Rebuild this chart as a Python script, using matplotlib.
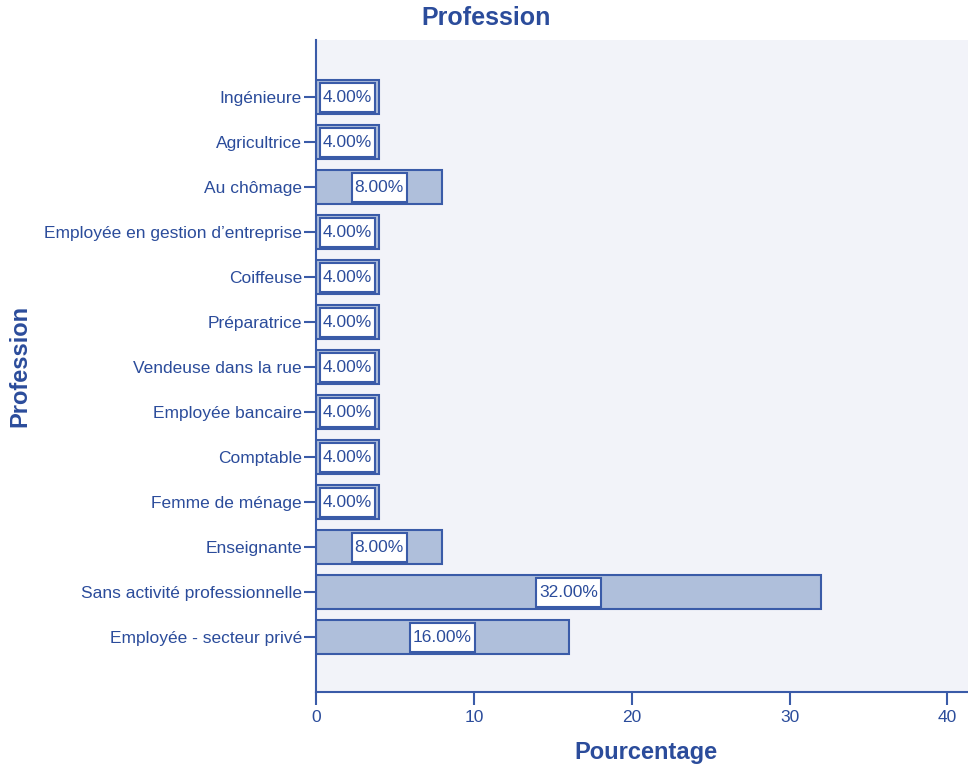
import matplotlib.pyplot as plt
from matplotlib.patches import Rectangle

# Data
professions = [
    "Ingénieure",
    "Agricultrice",
    "Au chômage",
    "Employée en gestion d\u2019entreprise",
    "Coiffeuse",
    "Préparatrice",
    "Vendeuse dans la rue",
    "Employée bancaire",
    "Comptable",
    "Femme de ménage",
    "Enseignante",
    "Sans activité professionnelle",
    "Employée - secteur privé",
]
percentages = [4, 4, 8, 4, 4, 4, 4, 4, 4, 4, 8, 32, 16]
x_ticks = [0, 10, 20, 30, 40]

text_color = "#2B4C9B"
bar_color = "#AFBFDB"
edge_color = "#3A5BA8"
bg_color = "#F2F3F9"

plt.rcParams['font.family'] = ['Liberation Sans', 'DejaVu Sans']

fig = plt.figure(figsize=(9.68, 7.67), dpi=100)
ax = fig.add_axes([316 / 968, 1 - 692 / 767, 1 - 316 / 968, (692 - 40) / 767])
ax.set_facecolor(bg_color)

y = list(range(len(professions)))
ax.barh(y, percentages, height=0.75, color=bar_color, edgecolor=edge_color, linewidth=1.5, zorder=2)

ax.set_yticks(y)
ax.set_yticklabels(professions)
ax.set_ylim(12 + 1.22, -1.27)
ax.set_xlim(0, 41.3)
ax.set_xticks(x_ticks)

for side in ['top', 'right']:
    ax.spines[side].set_visible(False)
for side in ['left', 'bottom']:
    ax.spines[side].set_color(edge_color)
    ax.spines[side].set_linewidth(1.5)
ax.tick_params(axis='both', colors=edge_color, labelcolor=text_color, labelsize=12.5,
               length=9, width=1.5, pad=1)
ax.tick_params(axis='x', pad=4)

# value labels in white boxes centred on each bar
labels = []
for yi, val in zip(y, percentages):
    t = ax.text(val / 2, yi, f"{val:.2f}%", ha='center', va='center', fontsize=12.5,
                color=text_color, zorder=4)
    labels.append(t)

fig.canvas.draw()
renderer = fig.canvas.get_renderer()
inv = ax.transData.inverted()
for t, yi in zip(labels, y):
    bb = t.get_window_extent(renderer)
    (x0, _), (x1, _) = inv.transform([(bb.x0 - 3, bb.y0), (bb.x1 + 3, bb.y1)])
    ax.add_patch(Rectangle((x0, yi - 0.32), x1 - x0, 0.64, facecolor='white',
                           edgecolor=edge_color, linewidth=1.5, zorder=3))

fig.text(486 / 968, 1 - 18 / 767, "Profession", fontsize=18, fontweight='bold',
         color=text_color, ha='center', va='center')
fig.text(646 / 968, 1 - 752 / 767, "Pourcentage", fontsize=17, fontweight='bold',
         color=text_color, ha='center', va='center')
fig.text(20 / 968, 1 - 366 / 767, "Profession", rotation=90, fontsize=17, fontweight='bold',
         color=text_color, ha='center', va='center')

fig.savefig("out.png", dpi=100, facecolor='white')
